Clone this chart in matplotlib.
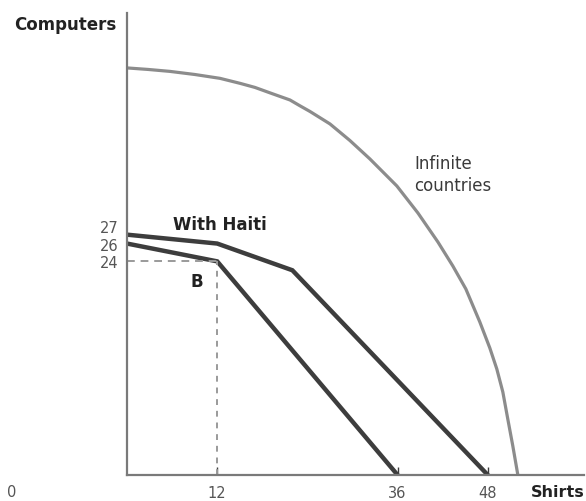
import matplotlib.pyplot as plt

plt.rcParams['font.family'] = ['DejaVu Sans']

# production possibilities (shirts, computers)
without_x = [0, 12, 36]
without_y = [26, 24, 0]
haiti_x = [0, 12, 22, 48]
haiti_y = [27, 26, 23, 0]

# outer frontier, points
inf_x = [0, 2.79, 5.72, 9.04, 12.37, 15.03, 17.02, 19.28, 21.68, 23.0, 24.34, 27.00,
         29.65, 32.31, 35.90, 38.70, 41.36, 43.35, 45.08, 46.94, 48.27, 49.20, 50.00,
         50.66, 51.33, 52.0]
inf_y = [45.73, 45.56, 45.34, 44.99, 44.56, 44.0, 43.54, 42.85, 42.13, 41.48, 40.84, 39.44,
         37.58, 35.51, 32.47, 29.44, 26.18, 23.48, 20.90, 17.19, 14.27, 11.91, 9.33,
         6.29, 3.26, 0.0]

point_b = (12, 24)
x_ticks = [12, 36, 48]
y_ticks = [24, 26, 27]

fig = plt.figure(figsize=(5.86, 5.02), dpi=100)
ax = fig.add_axes([127 / 586, 26 / 502, 457 / 586, 462 / 502])

dark = '#3d3d3d'
ax.plot(inf_x, inf_y, color='#8c8c8c', lw=2.3, solid_capstyle='butt', solid_joinstyle='round')
ax.plot(haiti_x, haiti_y, color=dark, lw=3.2, solid_joinstyle='miter')
ax.plot(without_x, without_y, color=dark, lw=3.2, solid_joinstyle='miter')

# dashed guides to point B
ax.plot([0, point_b[0]], [point_b[1], point_b[1]], color='#9a9a9a', lw=1.4, ls=(0, (4, 3)))
ax.plot([point_b[0], point_b[0]], [0, point_b[1]], color='#9a9a9a', lw=1.4, ls=(0, (3, 3)))

ax.set_xlim(0, 60.8)
ax.set_ylim(0, 51.9)
for s in ['top', 'right']:
    ax.spines[s].set_visible(False)
for s in ['left', 'bottom']:
    ax.spines[s].set_color('#7a7a7a')
    ax.spines[s].set_linewidth(1.6)

ax.set_xticks(x_ticks)
ax.set_xticklabels([str(v) for v in x_ticks])
ax.set_yticks(y_ticks)
ax.set_yticklabels([str(v) for v in y_ticks])
ax.tick_params(axis='x', direction='in', length=6, width=1, color=dark,
               labelsize=10.5, labelcolor='#555555', pad=7)
ax.tick_params(axis='y', length=0, labelsize=10.5, labelcolor='#555555', pad=6)
# nudge the crowded 27 label up
ax.get_yticklabels()[2].set_verticalalignment('bottom')

fig.text(12 / 586, 1 - 493 / 502, '0', ha='center', va='center', fontsize=10.5, color='#555555')
fig.text(558 / 586, 1 - 493 / 502, 'Shirts', ha='center', va='center', fontsize=11.5,
         fontweight='bold', color='#222222')
fig.text(65 / 586, 1 - 25 / 502, 'Computers', ha='center', va='center', fontsize=12,
         fontweight='bold', color='#222222')

ax.text(6.1, 28.2, 'With Haiti', ha='left', va='center', fontsize=12, fontweight='bold', color='#222222')
ax.text(9.3, 21.8, 'B', ha='center', va='center', fontsize=12, fontweight='bold', color='#222222')
ax.text(38.2, 33.8, 'Infinite\ncountries', ha='left', va='center', fontsize=12,
        color='#3a3a3a', linespacing=1.3)

fig.savefig('out.png', dpi=100)
